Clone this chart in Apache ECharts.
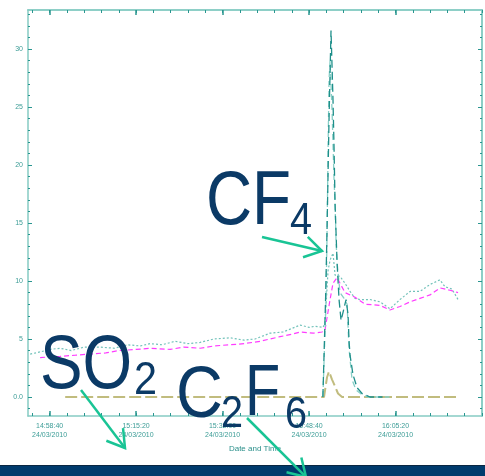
<!DOCTYPE html>
<html>
<head>
<meta charset="utf-8">
<script src="https://cdn.jsdelivr.net/npm/echarts@6/dist/echarts.min.js"></script>
<style>
  html, body { margin: 0; padding: 0; background: #fff; }
  #chart { width: 485px; height: 476px; }
</style>
</head>
<body>
<div id="chart"></div>
<script>
// time in seconds after 14:58:40 on 24/03/2010
var startClock = 14 * 3600 + 58 * 60 + 40;
var dateText = '24/03/2010';
var majorTimes = [0, 1000, 2000, 3000, 4000];
var yLabels = [0, 5, 10, 15, 20, 25, 30];

// wavy teal trace (upper)
var tealLight = [
  [-225, 3.7], [-100, 3.9], [0, 4.1], [121, 4.2], [250, 4.0], [400, 4.3], [584, 4.3], [750, 4.2],
  [900, 4.5], [1050, 4.4], [1162, 4.6], [1300, 4.5], [1450, 4.8], [1600, 4.6], [1740, 4.7],
  [1900, 5.0], [2087, 5.1], [2250, 4.9], [2376, 5.0], [2549, 5.5], [2700, 5.6], [2800, 5.9],
  [2896, 6.2], [3000, 6.0], [3069, 6.1], [3162, 6.0], [3185, 6.4], [3220, 10.9], [3243, 11.8],
  [3277, 12.4], [3301, 10.5], [3358, 10.4], [3416, 9.8], [3474, 9.1], [3532, 8.5], [3590, 8.4],
  [3705, 8.4], [3821, 8.2], [3936, 7.6], [3994, 8.0], [4052, 8.4], [4168, 9.1], [4283, 9.1],
  [4399, 9.7], [4514, 10.1], [4572, 9.5], [4653, 9.3], [4723, 8.4]
];

// magenta trace
var magenta = [
  [-110, 3.4], [121, 3.5], [300, 3.6], [468, 3.7], [650, 3.8], [800, 4.0], [1000, 4.1],
  [1162, 4.2], [1393, 4.1], [1550, 4.3], [1740, 4.2], [1900, 4.4], [2087, 4.5], [2250, 4.6],
  [2434, 4.8], [2665, 5.2], [2800, 5.4], [2896, 5.6], [3050, 5.5], [3150, 5.6], [3185, 5.8],
  [3243, 8.4], [3277, 9.8], [3324, 10.3], [3358, 9.8], [3416, 9.0], [3532, 8.6], [3647, 8.0],
  [3821, 7.9], [3936, 7.5], [4052, 7.8], [4168, 8.2], [4283, 8.5], [4399, 8.8], [4514, 9.4],
  [4630, 9.2], [4723, 9.0]
];

// CF4 spike, dark teal
var cf4 = [
  [3160, 0], [3173, 0], [3191, 8.4], [3208, 14.4], [3231, 23.9], [3254, 31.6], [3277, 25.6],
  [3289, 21.5], [3301, 16.6], [3324, 11.6], [3347, 8.4], [3370, 6.6], [3393, 7.3], [3428, 8.4],
  [3451, 7.1], [3462, 4.9], [3474, 3.6], [3509, 1.9], [3555, 0.8], [3613, 0.3], [3705, 0],
  [3850, 0]
];

// CF4 second trace, light teal
var cf4b = [
  [3160, 0], [3173, 0], [3197, 8.4], [3208, 14.0], [3220, 21.3], [3231, 27.3], [3243, 29.0],
  [3266, 24.7], [3289, 18.7], [3301, 16.6], [3312, 13.5], [3324, 11.6], [3358, 9.0],
  [3405, 8.5], [3440, 8.0], [3462, 4.2], [3497, 1.5], [3543, 0.6], [3613, 0.2], [3682, 0],
  [3930, 0]
];

// C2F6 trace, olive
var c2f6 = [
  [180, 0], [1000, 0], [2000, 0], [3000, 0], [3173, 0], [3208, 1.7], [3231, 2.2], [3266, 1.5],
  [3301, 0.9], [3335, 0.3], [3382, 0], [4000, 0], [4723, 0]
];

function clock(t) {
  var s = startClock + t;
  var h = Math.floor(s / 3600), m = Math.floor(s % 3600 / 60), ss = s % 60;
  function p(n) { return (n < 10 ? '0' : '') + n; }
  return p(h) + ':' + p(m) + ':' + p(ss);
}

var minorX = [];
for (var t = -200; t <= 5000; t += 200) minorX.push(t);
var minorY = [];
for (var v = -1; v <= 33; v++) minorY.push(v);

var axisColor = '#86cbc3';
var tickColor = '#2a9690';
var textColor = '#3d9d97';

function xAxisDef(pos, major, labels) {
  return {
    type: 'value', min: -250, max: 5000, position: pos,
    axisLine: { show: labels || pos === 'top', onZero: false, lineStyle: { color: axisColor, width: 1.5 } },
    axisTick: { show: true, inside: true, length: major ? 5 : 3, customValues: major ? majorTimes : minorX,
      lineStyle: { color: tickColor, width: major ? 1.5 : 1 } },
    axisLabel: labels ? {
      customValues: majorTimes, fontSize: 7, color: textColor, margin: 6, lineHeight: 9,
      fontFamily: 'Liberation Sans',
      formatter: function (val) { return clock(val) + '\n' + dateText; }
    } : { show: false },
    name: labels ? 'Date and Time' : '', nameLocation: 'middle', nameGap: 25,
    nameTextStyle: { fontSize: 8, color: '#2a8f8a', fontFamily: 'Liberation Sans' },
    splitLine: { show: false }
  };
}

function yAxisDef(pos, major, labels) {
  return {
    type: 'value', min: -1.64, max: 33.36, position: pos,
    axisLine: { show: labels || pos === 'right', onZero: false, lineStyle: { color: axisColor, width: 1.5 } },
    axisTick: { show: true, inside: true, length: major ? 4 : 2, customValues: major ? yLabels : minorY,
      lineStyle: { color: tickColor, width: 1 } },
    axisLabel: labels ? {
      customValues: yLabels, fontSize: 7, color: textColor, margin: 5, fontFamily: 'Liberation Sans',
      formatter: function (val) { return val === 0 ? '0.0' : String(val); }
    } : { show: false },
    splitLine: { show: false }
  };
}

function arrow(x1, y1, x2, y2) {
  var dx = x2 - x1, dy = y2 - y1, len = Math.sqrt(dx * dx + dy * dy);
  var ux = -dx / len, uy = -dy / len, a = 0.55, L = 20;
  var c = Math.cos(a), s = Math.sin(a);
  var p1 = [x2 + L * (ux * c - uy * s), y2 + L * (ux * s + uy * c)];
  var p2 = [x2 + L * (ux * c + uy * s), y2 + L * (-ux * s + uy * c)];
  var st = { stroke: '#19c495', lineWidth: 2.5, fill: null };
  return [
    { type: 'line', z: 30, shape: { x1: x1, y1: y1, x2: x2, y2: y2 }, style: st },
    { type: 'polyline', z: 30, shape: { points: [p1, [x2, y2], p2] }, style: st }
  ];
}

function label(txt, x, y, size, sx) {
  return {
    type: 'text', z: 25, x: x, y: y, scaleX: sx || 1,
    style: { text: txt, fill: '#0b3a66', font: size + 'px "Liberation Sans"', align: 'left', verticalAlign: 'middle' }
  };
}

var myChart = echarts.init(document.getElementById('chart'));

var option = {
  animation: false,
  backgroundColor: '#fff',
  grid: { left: 28, right: 3, top: 10, bottom: 60 },
  xAxis: [xAxisDef('bottom', true, true), xAxisDef('bottom', false, false), xAxisDef('top', true, false), xAxisDef('top', false, false)],
  yAxis: [yAxisDef('left', true, true), yAxisDef('left', false, false), yAxisDef('right', true, false), yAxisDef('right', false, false)],
  series: [
    { name: 'C2F6', type: 'line', data: c2f6, symbol: 'none', lineStyle: { color: '#c1bc7e', width: 2, type: [12, 4] } },
    { name: 'SO2', type: 'line', data: tealLight, symbol: 'none', lineStyle: { color: '#72c2ba', width: 1.2, type: [2, 2] } },
    { name: 'SO2 b', type: 'line', data: magenta, symbol: 'none', lineStyle: { color: '#ff3cff', width: 1.2, type: [5, 3] } },
    { name: 'CF4 b', type: 'line', data: cf4b, symbol: 'none', lineStyle: { color: '#86cfc7', width: 1.3, type: [6, 4] } },
    { name: 'CF4', type: 'line', data: cf4, symbol: 'none', lineStyle: { color: '#1e8f8a', width: 1.3, type: [8, 4] } }
  ],
  graphic: [
    { type: 'rect', z: 20, shape: { x: 0, y: 465, width: 485, height: 11 }, style: { fill: '#003b6d' } },
    { type: 'rect', z: 21, shape: { x: 0, y: 465, width: 485, height: 1 }, style: { fill: '#0a2742' } },
    label('CF', 206, 203, 76, 0.84),
    label('4', 290, 222, 44, 0.9),
    label('SO', 40, 367, 76, 0.84),
    label('2', 134, 381, 46, 0.9),
    label('C', 176, 397, 72, 0.9),
    label('2', 221, 415, 44, 0.9),
    label('F', 245, 395, 72, 0.8),
    label('6', 285, 416, 44, 0.9)
  ].concat(arrow(262, 237, 322, 251), arrow(81, 390, 125, 448), arrow(247, 418, 306, 477))
};

myChart.setOption(option);
</script>
</body>
</html>
